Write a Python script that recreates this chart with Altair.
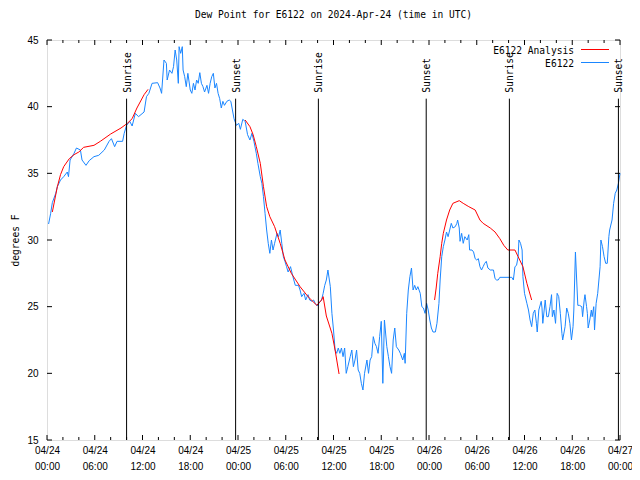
import altair as alt
import pandas as pd

# ---------------- data ----------------
blue_h = [0.2, 0.46, 0.67, 1.1, 1.3, 1.7, 2.1, 2.55, 2.7, 2.9, 3.4, 3.7, 4.2, 4.4, 4.9, 5.3, 5.9, 6.5,
          7.2, 7.8, 8.1, 8.5, 8.8, 9.5, 9.7, 10.0, 10.4, 10.7, 11.1, 11.5, 12.2, 12.5, 12.8, 13.2, 13.9,
          14.2, 14.4, 14.7, 15.0, 15.1, 15.4, 15.7, 15.9, 16.1, 16.3, 16.5, 16.6, 16.8, 17.0, 17.1, 17.3,
          17.5, 17.7, 18.0, 18.2, 18.4, 18.6, 18.8, 19.0, 19.2, 19.4, 19.6, 19.8, 20.1, 20.3, 20.5, 20.7,
          20.9, 21.1, 21.3, 21.5, 21.7, 21.9, 22.1, 22.3, 22.6, 22.9, 23.1, 23.3, 23.5, 23.8, 24.1, 24.3,
          24.6, 24.9, 25.2, 25.5, 25.75, 26.0, 26.3, 26.5, 26.8, 27.0, 27.2, 27.4, 27.6, 27.8, 28.0, 28.2,
          28.4, 28.6, 28.9, 29.1, 29.3, 29.5, 29.7, 29.9, 30.1, 30.3, 30.6, 30.9, 31.2, 31.6, 31.8, 32.0,
          32.3, 32.5, 32.8, 33.0, 33.3, 33.5, 33.7, 34.0, 34.2, 34.5, 34.7, 34.9, 35.1, 35.3, 35.6, 35.8,
          36.0, 36.2, 36.4, 36.6, 36.8, 37.0, 37.2, 37.4, 37.6, 37.8, 38.1, 38.3, 38.5, 38.7, 38.9, 39.1,
          39.3, 39.5, 39.7, 39.9, 40.2, 40.4, 40.6, 40.8, 41.0, 41.2, 41.4, 41.6, 41.8, 42.0, 42.2, 42.4,
          42.7, 42.9, 43.1, 43.3, 43.5, 43.7, 43.9, 44.2, 44.4, 44.7, 44.9, 45.0, 45.2, 45.4, 45.6, 45.8,
          46.0, 46.2, 46.4, 46.6, 46.9, 47.1, 47.3, 47.5, 47.7, 47.9, 48.1, 48.3, 48.5, 48.8, 49.0, 49.25,
          49.4, 49.6, 49.8, 50.0, 50.2, 50.4, 50.6, 50.8, 51.0, 51.3, 51.5, 51.6, 51.8, 51.9, 52.1, 52.3,
          52.5, 52.8, 53.0, 53.1, 53.4, 53.6, 53.8, 54.0, 54.2, 54.4, 54.6, 54.8, 55.0, 55.2, 55.4, 55.7,
          56.1, 56.3, 56.5, 56.7, 56.9, 58.4, 58.6, 58.8, 59.0, 59.2, 59.3, 59.5, 59.7, 59.8, 60.0, 60.3,
          60.5, 60.7, 60.9, 61.1, 61.3, 61.5, 61.6, 61.8, 62.1, 62.2, 62.3, 62.6, 62.8, 63.0, 63.2, 63.4,
          63.5, 63.7, 63.9, 64.1, 64.3, 64.5, 64.7, 64.8, 65.1, 65.3, 65.5, 65.7, 65.9, 66.1, 66.2, 66.4,
          66.5, 66.7, 66.9, 67.2, 67.3, 67.5, 67.6, 67.8, 67.9, 68.0, 68.2, 68.4, 68.5, 68.7, 68.8, 69.0,
          69.2, 69.5, 69.6, 69.8, 70.0, 70.2, 70.4, 70.6, 70.7, 71.0, 71.2, 71.4, 71.6, 71.8, 72.0]
blue_v = [31.2, 32.0, 32.8, 33.5, 34.0, 34.5, 34.75, 35.1, 34.75, 36.0, 36.5, 36.9, 36.75, 36.0, 35.6, 35.95, 36.25, 36.35,
          36.75, 37.4, 37.6, 37.0, 37.4, 37.4, 38.0, 38.6, 38.9, 38.55, 39.5, 39.25, 39.6, 40.75, 41.0, 41.75, 41.8,
          41.4, 41.0, 43.5, 43.25, 42.0, 42.75, 42.5, 43.0, 44.25, 43.5, 41.75, 44.5, 44.0, 44.5, 42.75, 42.25,
          41.5, 42.5, 41.25, 41.0, 41.75, 41.25, 42.0, 41.75, 42.55, 41.75, 41.5, 41.1, 41.6, 41.0, 41.75, 42.25,
          42.5, 41.4, 41.75, 41.0, 40.6, 39.9, 40.4, 40.1, 40.4, 40.5, 40.4, 39.75, 39.1, 38.6, 38.75, 38.3,
          39.05, 38.9, 37.9, 37.5, 38.0, 37.4, 36.5, 35.75, 34.75, 34.25, 33.25, 32.0, 30.75, 29.75, 29.0, 30.0,
          29.25, 29.75, 30.5, 30.25, 30.75, 29.75, 28.75, 28.4, 28.0, 27.6, 28.0, 27.25, 26.6, 26.6, 26.25, 25.75,
          26.0, 25.5, 25.9, 25.5, 25.4, 25.5, 25.25, 25.05, 25.3, 25.5, 26.0, 26.6, 27.0, 27.75, 26.5, 24.5,
          23.25, 21.75, 21.5, 21.9, 21.5, 21.9, 21.25, 21.9, 20.0, 20.5, 21.25, 21.75, 20.5, 21.0, 21.75, 20.25,
          20.0, 19.25, 18.75, 20.0, 21.0, 20.0, 21.0, 21.25, 22.75, 22.25, 22.0, 21.5, 22.75, 23.9, 19.25, 24.0,
          22.0, 21.25, 20.5, 20.0, 22.5, 23.4, 22.0, 21.75, 21.5, 21.0, 21.5, 20.75, 24.5, 26.25, 27.25, 27.9,
          26.25, 26.6, 26.25, 26.5, 26.0, 25.0, 24.9, 24.5, 25.25, 24.75, 24.0, 23.4, 23.1, 23.1, 23.75, 25.25,
          27.0, 28.75, 29.5, 30.0, 30.6, 30.25, 30.75, 31.25, 30.9, 31.0, 31.25, 31.5, 30.9, 29.9, 30.5, 29.75,
          30.25, 30.0, 30.4, 29.25, 29.25, 29.1, 28.6, 28.5, 28.6, 28.0, 27.75, 28.0, 28.25, 28.4, 27.9, 27.75,
          27.75, 27.1, 27.0, 27.0, 27.2, 27.2, 27.0, 28.0, 28.1, 28.75, 30.0, 29.75, 29.25, 27.25, 26.0, 25.25,
          24.75, 24.0, 23.5, 24.5, 24.75, 23.75, 23.1, 24.75, 25.4, 24.9, 23.75, 25.5, 24.25, 24.25, 25.0, 25.9,
          24.25, 24.75, 23.75, 26.0, 25.75, 24.5, 23.0, 22.5, 23.5, 24.9, 24.5, 23.75, 22.5, 23.5, 24.75, 29.1,
          27.75, 25.1, 25.1, 25.0, 24.25, 25.5, 25.9, 25.0, 24.5, 23.4, 24.0, 24.75, 24.25, 25.0, 23.25, 25.25,
          26.0, 28.0, 30.0, 29.5, 28.75, 28.25, 28.25, 30.25, 30.75, 31.5, 32.75, 33.5, 33.75, 34.25, 35.0]

red_h = [0.67, 1.3, 1.7, 2.1, 2.8, 3.4, 4.0, 4.6, 5.9, 6.7, 8.0, 9.3, 10.1, 10.7, 11.3, 12.2, 12.7,
         24.9, 25.5, 25.9, 26.3, 26.8, 27.2, 27.6, 28.0, 28.6, 29.3, 29.9, 30.7, 31.8, 32.8, 33.9, 34.5,
         34.7, 35.1, 35.8, 36.2, 36.7,
         48.7, 48.9, 49.1, 49.4, 49.6, 49.8, 50.2, 50.6, 51.0, 51.8, 52.3, 53.0, 53.8, 54.4, 54.8, 55.7,
         56.3, 56.9, 57.4, 57.9, 58.8, 59.2, 59.8, 60.3, 60.9]
red_v = [32.1, 34.0, 34.9, 35.5, 36.1, 36.4, 36.6, 36.95, 37.1, 37.4, 37.95, 38.4, 38.75, 39.1, 39.9, 40.9, 41.3,
         39.0, 38.5, 37.9, 37.0, 35.75, 34.0, 32.5, 31.75, 31.0, 29.75, 28.5, 27.5, 26.5, 25.75, 25.1, 25.5,
         25.75, 24.3, 23.0, 21.75, 19.95,
         25.5, 26.4, 27.5, 28.75, 29.75, 30.5, 31.5, 32.25, 32.75, 32.95, 32.75, 32.5, 32.25, 31.5, 31.25, 30.9,
         30.6, 30.1, 29.6, 29.25, 29.25, 28.75, 28.0, 26.75, 25.5]
red_seg = [1] * 17 + [2] * 21 + [3] * 25

event_names = ["Sunrise", "Sunset", "Sunrise", "Sunset", "Sunrise", "Sunset"]
event_hours = [10.0, 23.7, 34.1, 47.65, 58.1, 71.8]

y_ticks = [15, 20, 25, 30, 35, 40, 45]
x_major = list(range(0, 73, 6))
x_minor = [h for h in range(0, 73, 2) if h % 6 != 0]

series_names = ["E6122 Analysis", "E6122"]
series_colors = ["#ff0000", "#1a86ff"]

TITLE = "Dew Point for E6122 on 2024-Apr-24 (time in UTC)"
FONT = "DejaVu Sans Mono"
FS = 9.6
W, H = 573, 400

# ---------------- frames ----------------
df_blue = pd.DataFrame({"h": blue_h, "v": blue_v})
df_red = pd.DataFrame({"h": red_h, "v": red_v, "seg": red_seg})
df_ev = pd.DataFrame({"h": event_hours, "name": event_names})
df_xmaj = pd.DataFrame({"h": x_major})
df_xmin = pd.DataFrame({"h": x_minor})
df_y = pd.DataFrame({"v": y_ticks})

xs = alt.Scale(domain=[0, 72], nice=False, zero=False)
ys = alt.Scale(domain=[15, 45], nice=False, zero=False)

x_label_expr = ("['04/' + (24 + floor(datum.value / 24)), "
                "(datum.value % 24 < 10 ? '0' : '') + (datum.value % 24) + ':00']")
xa = alt.Axis(values=x_major, labelExpr=x_label_expr, ticks=False, domain=False, grid=False,
              labelPadding=5, labelLineHeight=16, labelBaseline="top", labelFlush=False,
              labelOverlap=False, title=None)
ya = alt.Axis(values=y_ticks, ticks=False, domain=False, grid=False, labelPadding=9,
              title="degrees F", titlePadding=6, titleFontWeight="normal",
              titleFont=FONT, titleFontSize=FS, labelOverlap=False)

X = alt.X("h:Q", scale=xs, axis=xa)
Y = alt.Y("v:Q", scale=ys, axis=ya)

blue = alt.Chart(df_blue).mark_line(color=series_colors[1], strokeWidth=1).encode(x=X, y=Y)
red = alt.Chart(df_red).mark_line(color=series_colors[0], strokeWidth=1).encode(
    x=X, y=Y, detail="seg:N")

ev_rules = alt.Chart(df_ev).mark_rule(color="black", strokeWidth=1).encode(
    x=X, y=alt.datum(15, scale=ys), y2=alt.datum(40.6))
ev_text = alt.Chart(df_ev).mark_text(angle=270, align="left", baseline="middle", dx=6, dy=1,
                                     font=FONT, fontSize=FS, color="black").encode(
    x=X, y=alt.datum(40.6, scale=ys), text="name:N")

# inward ticks
tick_layers = []
for df_t, ln in [(df_xmaj, 5), (df_xmin, 3)]:
    tick_layers.append(alt.Chart(df_t).mark_rule(color="black", strokeWidth=1).encode(
        x=X, y=alt.value(H), y2=alt.value(H - ln)))
    tick_layers.append(alt.Chart(df_t).mark_rule(color="black", strokeWidth=1).encode(
        x=X, y=alt.value(0), y2=alt.value(ln)))
tick_layers.append(alt.Chart(df_y).mark_rule(color="black", strokeWidth=1).encode(
    y=Y, x=alt.value(0), x2=alt.value(5)))
tick_layers.append(alt.Chart(df_y).mark_rule(color="black", strokeWidth=1).encode(
    y=Y, x=alt.value(W), x2=alt.value(W - 5)))

# legend (top right, gnuplot style: text then line sample)
legend_layers = []
for i, (nm, col) in enumerate(zip(series_names, series_colors)):
    ypix = 10 + i * 13
    d = pd.DataFrame({"label": [nm]})
    legend_layers.append(alt.Chart(d).mark_text(align="right", baseline="middle", font=FONT,
                                                fontSize=FS, color="black").encode(
        text="label:N", x=alt.value(527), y=alt.value(ypix + 0.5)))
    legend_layers.append(alt.Chart(d).mark_rule(color=col, strokeWidth=1).encode(
        x=alt.value(534), x2=alt.value(562), y=alt.value(ypix - 0.5)))

chart = alt.layer(blue, red, ev_rules, ev_text, *tick_layers, *legend_layers).properties(
    width=W, height=H,
    title=alt.TitleParams(TITLE, font=FONT, fontSize=FS, fontWeight="normal", offset=15,
                          anchor="middle", color="black"),
    autosize=alt.AutoSizeParams(type="none"),
    padding={"left": 39, "top": 32, "right": 12, "bottom": 30},
).configure_view(stroke="black", strokeWidth=1).configure_axis(
    labelFont=FONT, labelFontSize=FS, labelColor="black",
    titleFont=FONT, titleFontSize=FS, titleFontWeight="normal", titleColor="black",
).configure(background="white")

chart.save("out.html", embed_options={"renderer": "svg", "actions": False})
